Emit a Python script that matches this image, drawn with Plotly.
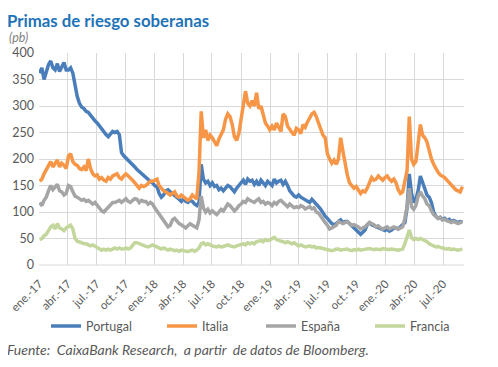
import pandas as pd
import plotly.graph_objects as go

# Weekly observations (Mondays) from 2017-01-02 to 2020-08-31, spreads in bp
portugal_2017 = [362, 372, 350, 365, 378, 385, 372, 368, 380, 365, 375, 382, 368,
                 368, 372, 362, 340, 318, 305, 298, 295, 290, 288, 282, 278, 272,
                 268, 262, 258, 250, 246, 242, 248, 252, 250, 252, 246, 212, 206,
                 202, 198, 195, 190, 185, 180, 176, 172, 168, 166, 162, 158, 155]
portugal_2018 = [150, 148, 135, 128, 132, 140, 142, 138, 135, 132, 128, 124, 120,
                 125, 120, 118, 122, 120, 115, 112, 118, 190, 162, 155, 158, 150,
                 155, 148, 150, 142, 145, 140, 145, 150, 148, 142, 138, 145, 150,
                 155, 160, 152, 162, 158, 160, 152, 158, 150, 160, 155, 150, 158, 155]
portugal_2019 = [150, 162, 155, 158, 160, 152, 158, 150, 140, 135, 130, 128,
                 132, 128, 125, 122, 120, 118, 124, 120, 115, 110, 105, 98, 92,
                 88, 82, 78, 76, 78, 82, 85, 80, 82, 82, 78, 76, 72, 68,
                 62, 58, 62, 66, 76, 80, 76, 74, 72, 70, 68, 66, 65]
portugal_2020 = [68, 64, 66, 70, 70, 68, 72, 75, 80, 108, 172, 135, 118,
                 125, 140, 168, 155, 140, 132, 128, 118, 100, 92, 88, 90, 86,
                 88, 84, 86, 82, 84, 82, 80, 82, 81]

italia_2017 = [158, 162, 172, 180, 188, 195, 185, 192, 198, 185, 192, 188, 182,
               205, 210, 195, 190, 188, 182, 180, 185, 178, 200, 182, 172, 168,
               170, 162, 165, 160, 158, 165, 162, 168, 170, 172, 165, 162, 168,
               172, 168, 165, 160, 155, 150, 145, 150, 148, 150, 155, 158, 158]
italia_2018 = [160, 162, 150, 145, 140, 138, 135, 132, 135, 138, 130, 128, 132,
               128, 125, 122, 125, 132, 128, 125, 175, 290, 240, 255, 235, 245,
               240, 232, 225, 238, 245, 255, 275, 285, 280, 265, 242, 235, 248,
               275, 300, 328, 305, 300, 310, 300, 325, 295, 300, 285, 268, 262, 255]
italia_2019 = [262, 255, 268, 258, 252, 285, 280, 262, 255, 250, 245, 258,
               255, 248, 265, 260, 270, 278, 285, 288, 280, 268, 255, 245, 240,
               210, 200, 192, 198, 190, 200, 240, 215, 190, 170, 155, 150, 145, 148,
               140, 135, 140, 138, 145, 155, 165, 160, 162, 168, 165, 160, 165]
italia_2020 = [168, 162, 158, 162, 155, 142, 135, 138, 160, 178, 280, 200, 190,
               195, 230, 265, 245, 240, 232, 215, 200, 190, 182, 175, 170, 168,
               165, 160, 155, 150, 145, 142, 140, 138, 148]

espana_2017 = [118, 112, 122, 128, 140, 150, 142, 148, 152, 140, 138, 132, 135,
               150, 148, 138, 130, 128, 125, 122, 124, 120, 122, 118, 115, 118,
               112, 108, 102, 100, 105, 110, 115, 118, 118, 120, 122, 118, 122,
               125, 120, 118, 122, 125, 124, 118, 122, 120, 120, 115, 118, 115]
espana_2018 = [108, 102, 95, 88, 82, 78, 72, 75, 85, 88, 82, 78, 76,
               72, 70, 74, 78, 75, 72, 70, 85, 130, 108, 100, 105, 98,
               102, 98, 95, 100, 105, 102, 110, 115, 112, 108, 102, 106, 112,
               115, 120, 118, 125, 122, 120, 118, 122, 125, 118, 120, 115, 118, 116]
espana_2019 = [112, 118, 115, 120, 122, 118, 115, 110, 115, 112, 108, 110,
               108, 112, 110, 106, 108, 110, 106, 108, 100, 98, 92, 85, 80,
               75, 68, 70, 72, 75, 82, 80, 78, 80, 82, 78, 75, 76, 74,
               72, 68, 70, 72, 76, 80, 78, 76, 72, 74, 70, 68, 70]
espana_2020 = [72, 68, 70, 72, 70, 68, 70, 72, 88, 110, 145, 110, 105,
               112, 130, 138, 130, 125, 115, 112, 102, 95, 92, 88, 90, 85,
               86, 84, 82, 80, 82, 80, 78, 80, 82]

francia_2017 = [48, 50, 55, 58, 65, 72, 75, 68, 78, 70, 68, 65, 70,
                72, 75, 68, 50, 45, 44, 42, 40, 40, 38, 36, 38, 35,
                34, 30, 28, 30, 28, 30, 28, 30, 32, 30, 32, 30, 30,
                32, 30, 32, 38, 42, 42, 40, 38, 36, 35, 34, 36, 38]
francia_2018 = [36, 34, 32, 30, 32, 30, 28, 30, 28, 27, 28, 26, 28,
                27, 26, 25, 27, 28, 26, 28, 32, 40, 42, 38, 40, 37,
                36, 35, 34, 36, 34, 35, 36, 38, 36, 35, 34, 36, 37,
                38, 40, 38, 42, 40, 42, 40, 44, 45, 46, 44, 48, 46, 47]
francia_2019 = [50, 52, 48, 46, 45, 44, 42, 44, 42, 40, 42, 38,
                36, 38, 36, 34, 35, 36, 34, 35, 32, 33, 32, 31, 30,
                30, 28, 27, 28, 30, 30, 28, 29, 30, 30, 28, 27, 29, 28,
                30, 28, 29, 30, 30, 31, 30, 29, 30, 30, 29, 31, 30]
francia_2020 = [30, 29, 30, 29, 28, 28, 29, 30, 40, 52, 66, 52, 48,
                50, 48, 50, 48, 47, 44, 40, 38, 36, 34, 35, 33, 32,
                31, 30, 31, 29, 30, 29, 28, 29, 30]

portugal = portugal_2017 + portugal_2018 + portugal_2019 + portugal_2020
italia = italia_2017 + italia_2018 + italia_2019 + italia_2020
espana = espana_2017 + espana_2018 + espana_2019 + espana_2020
francia = francia_2017 + francia_2018 + francia_2019 + francia_2020

dates = pd.date_range("2017-01-02", periods=len(portugal), freq="7D")

series_names = ["Portugal", "Italia", "España", "Francia"]
series_values = [portugal, italia, espana, francia]
series_colors = ["#4a7ebb", "#f79646", "#a5a5a5", "#c3d69b"]

tick_dates = ["2017-01-01", "2017-04-01", "2017-07-01", "2017-10-01",
              "2018-01-01", "2018-04-01", "2018-07-01", "2018-10-01",
              "2019-01-01", "2019-04-01", "2019-07-01", "2019-10-01",
              "2020-01-01", "2020-04-01", "2020-07-01"]
tick_labels = ["ene.-17", "abr.-17", "jul.-17", "oct.-17",
               "ene.-18", "abr.-18", "jul.-18", "oct.-18",
               "ene.-19", "abr.-19", "jul.-19", "oct.-19",
               "ene.-20", "abr.-20", "jul.-20"]

FONT = "Lato"
GREY = "#595959"

legend_ids = ["legend", "legend2", "legend3", "legend4"]
legend_x = [0.0165, 0.2895, 0.5224, 0.7788]

fig = go.Figure()
for name, vals, col, lid in zip(series_names, series_values, series_colors, legend_ids):
    fig.add_trace(go.Scatter(x=dates[:len(vals)], y=vals, name=name, mode="lines",
                             line=dict(color=col, width=3.5), legend=lid))

legend_common = dict(orientation="h", xanchor="left", y=-0.29, yanchor="middle",
                     bgcolor="rgba(0,0,0,0)",
                     font=dict(family=FONT, size=12.5, color=GREY))

fig.update_layout(
    width=490, height=359,
    margin=dict(l=31, r=34, t=45, b=102, autoexpand=False),
    paper_bgcolor="white", plot_bgcolor="white",
    font=dict(family=FONT, size=12, color=GREY),
    showlegend=True,
    legend=dict(x=legend_x[0], **legend_common),
    legend2=dict(x=legend_x[1], **legend_common),
    legend3=dict(x=legend_x[2], **legend_common),
    legend4=dict(x=legend_x[3], **legend_common),
    xaxis=dict(type="date", range=["2016-12-31", "2020-09-05"],
               tickvals=tick_dates, ticktext=tick_labels, tickangle=-45,
               showgrid=True, gridcolor="#d9d9d9", gridwidth=1, automargin=False,
               zeroline=False, showline=False, ticks="",
               ticklabelstandoff=9, ticklabeloverflow="allow",
               tickfont=dict(family=FONT, size=11.5, color=GREY)),
    yaxis=dict(range=[0, 400], dtick=50, showgrid=True, gridcolor="#d9d9d9",
               gridwidth=1, zeroline=False, showline=False, ticks="", automargin=False,
               ticklabelstandoff=4,
               tickfont=dict(family=FONT, size=12.5, color=GREY)),
    annotations=[
        dict(text="<b>Primas de riesgo soberanas</b>", xref="paper", yref="paper",
             x=-0.08, y=1.2123, xanchor="left", yanchor="top", showarrow=False,
             font=dict(family=FONT, size=16.8, color="#1f73b7")),
        dict(text="<i>(pb)</i>", xref="paper", yref="paper",
             x=-0.075, y=1.071, xanchor="left", yanchor="middle", showarrow=False,
             font=dict(family=FONT, size=12.5, color="#7f7f7f")),
        dict(text="<i>Fuente:&nbsp; CaixaBank Research,&nbsp; a partir&nbsp; de datos de Bloomberg.</i>",
             xref="paper", yref="paper", x=-0.08, y=-0.40, xanchor="left",
             yanchor="middle", showarrow=False,
             font=dict(family=FONT, size=14, color=GREY)),
    ],
)
fig.add_shape(type="line", xref="paper", yref="paper", x0=0, x1=1, y0=0, y1=0,
              line=dict(color="#d9d9d9", width=1), layer="below")

fig.write_html("out.html")
